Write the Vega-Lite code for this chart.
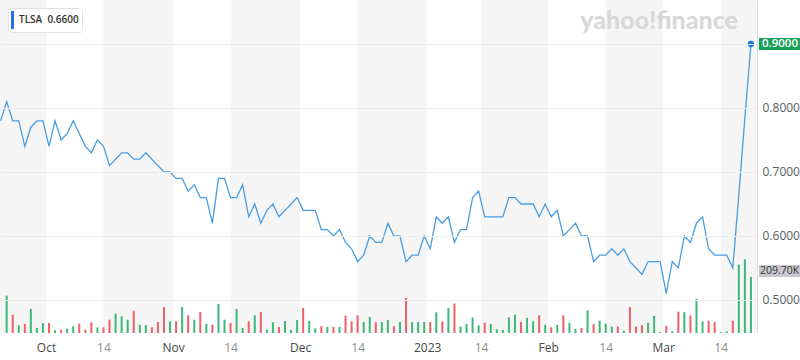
{
  "$schema": "https://vega.github.io/schema/vega-lite/v6.json",
  "width": 757,
  "height": 333,
  "autosize": "none",
  "padding": {"left": 0, "top": 0, "right": 43, "bottom": 27},
  "background": "white",
  "config": {"view": {"stroke": null}, "font": "Open Sans"},
  "title": {"text": "yahoo!finance", "orient": "top", "anchor": "end", "frame": "group", "offset": -30, "dy": 24, "baseline": "alphabetic", "dx": -19, "font": "Lato", "fontSize": 25, "fontWeight": 900, "color": "#d8d8d8"},
  "datasets": {
    "px": [
      {"i":-1,"p":0.78},
      {"i":0,"p":0.81,"v":139700,"d":"u"},{"i":1,"p":0.78,"v":68500,"d":"d"},{"i":2,"p":0.78,"v":28800,"d":"u"},{"i":3,"p":0.74,"v":34800,"d":"d"},{"i":4,"p":0.77,"v":89900,"d":"u"},{"i":5,"p":0.78,"v":18700,"d":"u"},{"i":6,"p":0.78,"v":37500,"d":"u"},{"i":7,"p":0.74,"v":37500,"d":"d"},{"i":8,"p":0.78,"v":10100,"d":"u"},{"i":9,"p":0.75,"v":12400,"d":"d"},
      {"i":10,"p":0.76,"v":16100,"d":"u"},{"i":11,"p":0.78,"v":25100,"d":"u"},{"i":12,"p":0.76,"v":34800,"d":"d"},{"i":13,"p":0.74,"v":12400,"d":"d"},{"i":14,"p":0.73,"v":40100,"d":"d"},{"i":15,"p":0.75,"v":21300,"d":"u"},{"i":16,"p":0.74,"v":21300,"d":"d"},{"i":17,"p":0.71,"v":49800,"d":"d"},{"i":18,"p":0.72,"v":72300,"d":"u"},{"i":19,"p":0.73,"v":62500,"d":"u"},
      {"i":20,"p":0.73,"v":49800,"d":"u"},{"i":21,"p":0.72,"v":83500,"d":"d"},{"i":22,"p":0.72,"v":31100,"d":"u"},{"i":23,"p":0.73,"v":30000,"d":"u"},{"i":24,"p":0.72,"v":21300,"d":"d"},{"i":25,"p":0.71,"v":41200,"d":"d"},{"i":26,"p":0.70,"v":97400,"d":"d"},{"i":27,"p":0.70,"v":43800,"d":"u"},{"i":28,"p":0.69,"v":43800,"d":"d"},{"i":29,"p":0.69,"v":97400,"d":"u"},
      {"i":30,"p":0.67,"v":66300,"d":"d"},{"i":31,"p":0.68,"v":49800,"d":"u"},{"i":32,"p":0.66,"v":78600,"d":"d"},{"i":33,"p":0.66,"v":34800,"d":"u"},{"i":34,"p":0.62,"v":31100,"d":"d"},{"i":35,"p":0.69,"v":108600,"d":"u"},{"i":36,"p":0.69,"v":49800,"d":"u"},{"i":37,"p":0.66,"v":37500,"d":"d"},{"i":38,"p":0.66,"v":89900,"d":"u"},{"i":39,"p":0.68,"v":18700,"d":"u"},
      {"i":40,"p":0.63,"v":43800,"d":"d"},{"i":41,"p":0.65,"v":66300,"d":"u"},{"i":42,"p":0.62,"v":78600,"d":"d"},{"i":43,"p":0.64,"v":12400,"d":"u"},{"i":44,"p":0.65,"v":40100,"d":"u"},{"i":45,"p":0.63,"v":22500,"d":"d"},{"i":46,"p":0.64,"v":44900,"d":"u"},{"i":47,"p":0.65,"v":12400,"d":"u"},{"i":48,"p":0.66,"v":48700,"d":"u"},{"i":49,"p":0.64,"v":93600,"d":"d"},
      {"i":50,"p":0.64,"v":44900,"d":"u"},{"i":51,"p":0.64,"v":17600,"d":"u"},{"i":52,"p":0.61,"v":25100,"d":"d"},{"i":53,"p":0.61,"v":22500,"d":"u"},{"i":54,"p":0.60,"v":22500,"d":"d"},{"i":55,"p":0.61,"v":22500,"d":"u"},{"i":56,"p":0.59,"v":64800,"d":"d"},{"i":57,"p":0.58,"v":43800,"d":"d"},{"i":58,"p":0.56,"v":66300,"d":"d"},{"i":59,"p":0.57,"v":41200,"d":"u"},
      {"i":60,"p":0.60,"v":59900,"d":"u"},{"i":61,"p":0.59,"v":40100,"d":"d"},{"i":62,"p":0.59,"v":41200,"d":"u"},{"i":63,"p":0.62,"v":48700,"d":"u"},{"i":64,"p":0.60,"v":25100,"d":"d"},{"i":65,"p":0.60,"v":41200,"d":"u"},{"i":66,"p":0.56,"v":131100,"d":"d"},{"i":67,"p":0.57,"v":41200,"d":"u"},{"i":68,"p":0.57,"v":41200,"d":"u"},{"i":69,"p":0.60,"v":41200,"d":"u"},
      {"i":70,"p":0.58,"v":41200,"d":"d"},{"i":71,"p":0.63,"v":77500,"d":"u"},{"i":72,"p":0.62,"v":43800,"d":"d"},{"i":73,"p":0.63,"v":93600,"d":"u"},{"i":74,"p":0.59,"v":110500,"d":"d"},{"i":75,"p":0.61,"v":24300,"d":"u"},{"i":76,"p":0.61,"v":33700,"d":"u"},{"i":77,"p":0.66,"v":58000,"d":"u"},{"i":78,"p":0.67,"v":28800,"d":"u"},{"i":79,"p":0.63,"v":38600,"d":"d"},
      {"i":80,"p":0.63,"v":33700,"d":"u"},{"i":81,"p":0.63,"v":13900,"d":"u"},{"i":82,"p":0.63,"v":11200,"d":"u"},{"i":83,"p":0.66,"v":58800,"d":"u"},{"i":84,"p":0.66,"v":68500,"d":"u"},{"i":85,"p":0.65,"v":41200,"d":"d"},{"i":86,"p":0.65,"v":56200,"d":"u"},{"i":87,"p":0.65,"v":43800,"d":"u"},{"i":88,"p":0.63,"v":66300,"d":"d"},{"i":89,"p":0.65,"v":31100,"d":"u"},
      {"i":90,"p":0.63,"v":21300,"d":"d"},{"i":91,"p":0.64,"v":30000,"d":"u"},{"i":92,"p":0.60,"v":66300,"d":"d"},{"i":93,"p":0.61,"v":38200,"d":"u"},{"i":94,"p":0.62,"v":15000,"d":"u"},{"i":95,"p":0.60,"v":18700,"d":"d"},{"i":96,"p":0.60,"v":85000,"d":"u"},{"i":97,"p":0.56,"v":33000,"d":"d"},{"i":98,"p":0.57,"v":46100,"d":"u"},{"i":99,"p":0.57,"v":35600,"d":"u"},
      {"i":100,"p":0.58,"v":24300,"d":"u"},{"i":101,"p":0.57,"v":24300,"d":"d"},{"i":102,"p":0.58,"v":8600,"d":"u"},{"i":103,"p":0.56,"v":97400,"d":"d"},{"i":104,"p":0.55,"v":24300,"d":"d"},{"i":105,"p":0.54,"v":29200,"d":"d"},{"i":106,"p":0.56,"v":38200,"d":"u"},{"i":107,"p":0.56,"v":64400,"d":"u"},{"i":108,"p":0.56,"v":3000,"d":"u"},{"i":109,"p":0.51,"v":27000,"d":"d"},
      {"i":110,"p":0.56,"v":6400,"d":"u"},{"i":111,"p":0.55,"v":79800,"d":"d"},{"i":112,"p":0.60,"v":77900,"d":"u"},{"i":113,"p":0.59,"v":66300,"d":"d"},{"i":114,"p":0.62,"v":128500,"d":"u"},{"i":115,"p":0.63,"v":43800,"d":"u"},{"i":116,"p":0.58,"v":46100,"d":"d"},{"i":117,"p":0.57,"v":41200,"d":"d"},{"i":118,"p":0.57,"v":3700,"d":"u"},{"i":119,"p":0.57,"v":6400,"d":"u"},
      {"i":120,"p":0.55,"v":46100,"d":"d"},{"i":121,"p":0.665,"v":255800,"d":"u"},{"i":122,"p":0.785,"v":276000,"d":"u"},{"i":123,"p":0.90,"v":209700,"d":"u"}
    ],
    "bands": [
      {"i":-1.1,"i2":6.5},{"i":16,"i2":27.5},{"i":37,"i2":48.5},{"i":58,"i2":69.5},{"i":78.4,"i2":89.5},{"i":99,"i2":108.5},{"i":118,"i2":124}
    ]
  },
  "data": {"name": "px"},
  "encoding": {
    "x": {
      "field": "i", "type": "quantitative",
      "scale": {"domain": [-1.1, 124], "nice": false, "zero": false, "padding": 0},
      "axis": {
        "values": [6.5,16,27.5,37,48.5,58,69.5,78.4,89.5,99,108.5,118],
        "labelExpr": "['Oct','14','Nov','14','Dec','14','2023','14','Feb','14','Mar','14'][indexof([6.5,16,27.5,37,48.5,58,69.5,78.4,89.5,99,108.5,118], datum.value)]",
        "ticks": false, "domain": false, "grid": false, "title": null,
        "labelPadding": 9, "labelFontSize": 12, "labelFont": "Open Sans",
        "labelColor": {"condition": {"test": "indexof([16,37,58,78.4,99,118], datum.value) >= 0", "value": "#8c8c8c"}, "value": "#464646"},
        "labelFlush": false, "labelOverlap": false
      }
    }
  },
  "layer": [
    {
      "data": {"name": "bands"},
      "mark": {"type": "rect", "color": "#f5f5f5"},
      "encoding": {"x2": {"field": "i2"}}
    },
    {
      "mark": {"type": "bar", "width": 2, "orient": "vertical"},
      "encoding": {
        "y": {"field": "v", "type": "quantitative", "scale": {"domain": [0, 1247000], "nice": false}, "axis": null},
        "color": {"condition": {"test": "datum.d == 'u'", "value": "#3fb77b"}, "value": "#ef6068"}
      }
    },
    {
      "mark": {"type": "line", "color": "#4a9de0", "strokeWidth": 1.3},
      "encoding": {
        "y": {
          "field": "p", "type": "quantitative",
          "scale": {"domain": [0.4484, 0.96875], "nice": false, "zero": false},
          "axis": {
            "orient": "right", "values": [0.5,0.6,0.7,0.8,0.9],
            "labelExpr": "datum.value > 0.85 ? '' : format(datum.value, '.4f')",
            "ticks": false, "domain": true, "domainColor": "#dcdcdc",
            "grid": true, "gridColor": "#ececec", "title": null,
            "labelPadding": 5, "labelFontSize": 12, "labelFont": "Open Sans", "labelColor": "#555b61", "zindex": 1
          }
        }
      }
    },
    {
      "transform": [{"filter": "datum.i == 123"}],
      "mark": {"type": "point", "filled": true, "size": 40, "opacity": 1},
      "encoding": {
        "y": {"field": "p", "type": "quantitative", "scale": {"domain": [0.4484, 0.96875], "nice": false, "zero": false}, "axis": null},
        "color": {
          "datum": "TLSA", "type": "nominal",
          "scale": {"range": ["#1a73e8"]},
          "legend": {
            "orient": "top-left", "offset": 8, "title": null, "padding": 3,
            "fillColor": "white", "strokeColor": "#e2e2e2", "cornerRadius": 3,
            "symbolType": "M-1,-1H-0.67V1H-1Z", "symbolSize": 324, "symbolStrokeWidth": 0,
            "labelExpr": "datum.label + ' \u00a00.6600'", "labelOffset": -10,
            "labelFont": "Open Sans", "labelFontSize": 10, "labelFontWeight": 600, "labelColor": "#333333"
          }
        }
      }
    },
    {
      "transform": [{"filter": "datum.i == 123"}],
      "mark": {"type": "point", "shape": "M0.8,-0.6H4.9V0.6H0.8Z", "size": 400, "filled": true, "color": "#16a05a", "opacity": 1, "strokeWidth": 0},
      "encoding": {
        "y": {"field": "p", "type": "quantitative", "scale": {"domain": [0.4484, 0.96875], "nice": false, "zero": false}, "axis": null}
      }
    },
    {
      "transform": [{"filter": "datum.i == 123"}],
      "mark": {"type": "text", "align": "left", "baseline": "middle", "dx": 11, "color": "white", "fontSize": 11.5, "fontWeight": 600, "font": "Open Sans"},
      "encoding": {
        "y": {"field": "p", "type": "quantitative", "scale": {"domain": [0.4484, 0.96875], "nice": false, "zero": false}, "axis": null},
        "text": {"field": "p", "type": "quantitative", "format": ".4f"}
      }
    },
    {
      "transform": [{"filter": "datum.i == 123"}],
      "mark": {"type": "point", "shape": "M0.8,-1.2H4.9V0H0.8Z", "size": 400, "filled": true, "color": "#c8c8ce", "opacity": 1, "strokeWidth": 0},
      "encoding": {
        "y": {"field": "v", "type": "quantitative", "scale": {"domain": [0, 1247000], "nice": false}, "axis": null}
      }
    },
    {
      "transform": [{"filter": "datum.i == 123"}, {"calculate": "upper(format(datum.v, '.5s'))", "as": "lab"}],
      "mark": {"type": "text", "align": "left", "baseline": "middle", "dx": 9, "dy": -6, "color": "#333333", "fontSize": 10.5, "font": "Open Sans"},
      "encoding": {
        "y": {"field": "v", "type": "quantitative", "scale": {"domain": [0, 1247000], "nice": false}, "axis": null},
        "text": {"field": "lab", "type": "nominal"}
      }
    }
  ],
  "resolve": {"scale": {"y": "independent"}}
}
